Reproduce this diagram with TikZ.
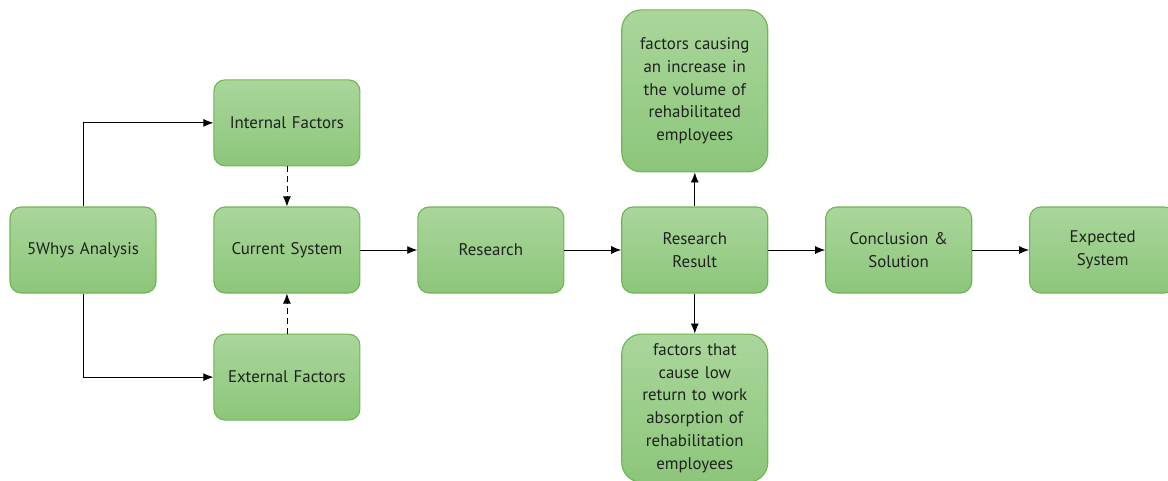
\documentclass[tikz,border=0pt]{standalone}
\usepackage{fontspec}
\setmainfont{PT Sans}
\usetikzlibrary{arrows.meta, positioning}
\definecolor{boxtop}{RGB}{170, 214, 155}
\definecolor{boxbottom}{RGB}{140, 198, 122}
\definecolor{boxline}{RGB}{112, 180, 84}
\definecolor{boxtext}{RGB}{30, 34, 30}

\begin{document}
\begin{tikzpicture}[
    node distance=1.42cm,
    stagebox/.style={
        draw=boxline, thick, rounded corners=8pt,
        top color=boxtop, bottom color=boxbottom,
        minimum width=3.65cm, minimum height=2.15cm,
        text width=3.3cm, align=center, inner sep=4pt,
        font=\fontsize{12}{16.2}\selectfont, text=boxtext
    },
    findingbox/.style={
        stagebox, rounded corners=14pt, minimum height=4.05cm
    },
    arrow/.style={-{Latex[length=2.5mm, width=2mm]}, black, semithick},
    dasharrow/.style={arrow, dash pattern=on 4pt off 3pt}
]

\useasboundingbox (0,0) rectangle (29.2,-12);

% MAIN FLOW
\node[stagebox] (whys) at (2.075,-6.25) {5Whys Analysis};

\node[stagebox, right=of whys] (current) {Current System};

\node[stagebox, above=1cm of current] (internal) {Internal Factors};

\node[stagebox, below=1cm of current] (external) {External Factors};

\node[stagebox, right=of current] (research) {Research};

\node[stagebox, right=of research] (result) {Research\\Result};

\node[stagebox, right=of result] (conclusion) {Conclusion \&\\Solution};

\node[stagebox, right=of conclusion] (expected) {Expected\\System};

% FINDINGS - above and below the research result
\node[findingbox, above=0.85cm of result] (increase) {
    factors causing\\an increase in\\the volume of\\rehabilitated\\employees
};

% shorter box, so that its last line stays inside the page
\node[findingbox, minimum height=3.7cm, below=1cm of result] (lowreturn) {
    factors that\\cause low\\return to work\\absorption of\\rehabilitation\\employees
};

% ARROWS: 5WHYS -> FACTORS (elbow)
\draw[arrow] (whys.north) |- (internal.west);
\draw[arrow] (whys.south) |- (external.west);

% ARROWS: FACTORS -> CURRENT SYSTEM (dashed)
\draw[dasharrow] (internal.south) -- (current.north);
\draw[dasharrow] (external.north) -- (current.south);

% ARROWS: MAIN FLOW
\draw[arrow] (current.east) -- (research.west);
\draw[arrow] (research.east) -- (result.west);
\draw[arrow] (result.east) -- (conclusion.west);
\draw[arrow] (conclusion.east) -- (expected.west);

% ARROWS: RESULT -> FINDINGS
\draw[arrow] (result.north) -- (increase.south);
\draw[arrow] (result.south) -- (lowreturn.north);

\end{tikzpicture}
\end{document}
